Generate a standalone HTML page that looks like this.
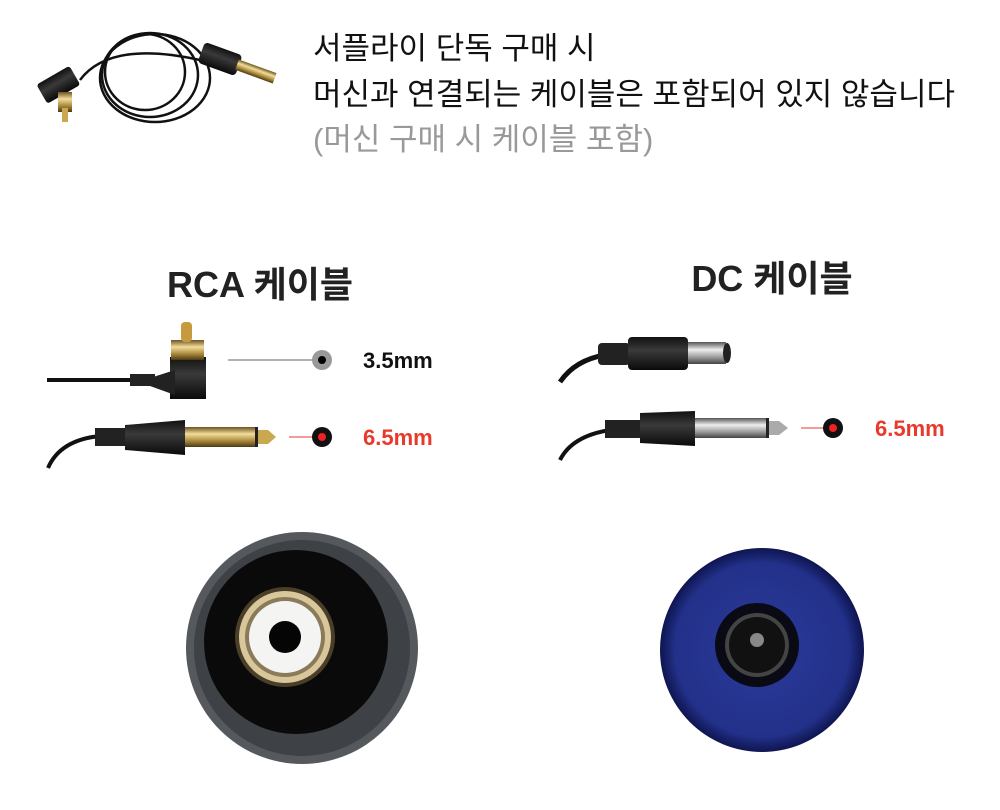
<!DOCTYPE html>
<html><head><meta charset="utf-8"><style>
html,body{margin:0;padding:0;background:#fff;}
svg{display:block}
text{font-family:"Liberation Sans","Noto Sans CJK KR",sans-serif;}
</style></head><body>
<svg width="1000" height="810" viewBox="0 0 1000 810" xmlns="http://www.w3.org/2000/svg">
<defs>
<linearGradient id="gold" x1="0" y1="0" x2="0" y2="1"><stop offset="0" stop-color="#6b5420"/><stop offset=".35" stop-color="#f2dd9a"/><stop offset=".7" stop-color="#a8873a"/><stop offset="1" stop-color="#4a3a15"/></linearGradient>
<linearGradient id="silver" x1="0" y1="0" x2="0" y2="1"><stop offset="0" stop-color="#555"/><stop offset=".35" stop-color="#eee"/><stop offset=".7" stop-color="#999"/><stop offset="1" stop-color="#444"/></linearGradient>
<linearGradient id="blk" x1="0" y1="0" x2="0" y2="1"><stop offset="0" stop-color="#111"/><stop offset=".4" stop-color="#3a3a3a"/><stop offset="1" stop-color="#0a0a0a"/></linearGradient>
<radialGradient id="blue" cx=".5" cy=".5" r=".5"><stop offset="0" stop-color="#2a3a9a"/><stop offset=".85" stop-color="#23318a"/><stop offset="1" stop-color="#0e1550"/></radialGradient>
</defs>

<g fill="none" stroke="#111" stroke-width="2.5">
<ellipse cx="150" cy="75" rx="48" ry="42"/>
<ellipse cx="145" cy="72" rx="40" ry="38"/>
<ellipse cx="155" cy="78" rx="55" ry="44"/>
<path d="M80 80 Q110 40 200 60"/>
</g>
<rect x="200" y="48" width="40" height="22" rx="4" fill="url(#blk)" transform="rotate(20 220 59)"/>
<rect x="236" y="66" width="40" height="11" fill="url(#gold)" transform="rotate(20 256 71)"/>
<g transform="rotate(-30 62 85)"><rect x="40" y="72" width="38" height="22" rx="3" fill="url(#blk)"/></g>
<rect x="58" y="92" width="14" height="20" fill="url(#gold)"/>
<rect x="62" y="108" width="6" height="14" fill="#c9a850"/>

<text x="313" y="59" font-size="31" fill="#111">서플라이 단독 구매 시</text>
<text x="313" y="105" font-size="31" fill="#111">머신과 연결되는 케이블은 포함되어 있지 않습니다</text>
<text x="313" y="150" font-size="31" fill="#999">(머신 구매 시 케이블 포함)</text>

<text x="260" y="297" font-size="36" font-weight="bold" fill="#222" text-anchor="middle">RCA 케이블</text>
<text x="772" y="291" font-size="36" font-weight="bold" fill="#222" text-anchor="middle">DC 케이블</text>

<path d="M47 380 L135 380" stroke="#111" stroke-width="4"/>
<rect x="130" y="374" width="25" height="12" fill="#222"/>
<rect x="170" y="357" width="36" height="42" fill="url(#blk)"/>
<path d="M150 378 L175 370 L175 395 L150 386Z" fill="#222"/>
<rect x="171" y="340" width="33" height="20" fill="url(#gold)"/>
<rect x="181" y="322" width="11" height="20" rx="4" fill="#c69a3e"/>
<line x1="228" y1="360" x2="318" y2="360" stroke="#999" stroke-width="1.5"/>
<circle cx="322" cy="360" r="10" fill="#999"/><circle cx="322" cy="360" r="4" fill="#000"/>
<text x="363" y="368" font-size="22" font-weight="bold" fill="#111">3.5mm</text>

<path d="M48 468 Q60 440 100 436" stroke="#111" stroke-width="4" fill="none"/>
<rect x="95" y="428" width="30" height="18" fill="#222"/>
<path d="M125 425 L185 420 L185 455 L125 450Z" fill="url(#blk)"/>
<rect x="185" y="427" width="72" height="20" fill="url(#gold)"/>
<rect x="255" y="427" width="3" height="20" fill="#222"/>
<path d="M258 430 L268 430 L276 437 L268 444 L258 444Z" fill="#c9a850"/>
<line x1="289" y1="437" x2="315" y2="437" stroke="#e33" stroke-width="1"/>
<circle cx="322" cy="437" r="10" fill="#111"/><circle cx="322" cy="437" r="4" fill="#e22"/>
<text x="363" y="445" font-size="22" font-weight="bold" fill="#e83a2c">6.5mm</text>

<path d="M560 382 Q575 360 605 355" stroke="#111" stroke-width="5" fill="none"/>
<rect x="598" y="343" width="32" height="22" rx="4" fill="#222"/>
<rect x="628" y="337" width="60" height="33" rx="4" fill="url(#blk)"/>
<rect x="688" y="342" width="38" height="22" fill="url(#silver)"/>
<ellipse cx="727" cy="353" rx="4" ry="10" fill="#222"/>

<path d="M560 460 Q572 436 610 430" stroke="#111" stroke-width="4" fill="none"/>
<rect x="605" y="420" width="35" height="18" fill="#222"/>
<path d="M640 413 L695 411 L695 446 L640 443Z" fill="url(#blk)"/>
<rect x="695" y="418" width="72" height="20" fill="url(#silver)"/>
<rect x="766" y="418" width="3" height="20" fill="#222"/>
<path d="M769 421 L779 421 L788 428 L779 435 L769 435Z" fill="#aaa"/>
<line x1="801" y1="428" x2="827" y2="428" stroke="#e33" stroke-width="1"/>
<circle cx="833" cy="428" r="10" fill="#111"/><circle cx="833" cy="428" r="4" fill="#e22"/>
<text x="875" y="436" font-size="22" font-weight="bold" fill="#e83a2c">6.5mm</text>

<circle cx="302" cy="648" r="116" fill="#55585c"/>
<circle cx="302" cy="648" r="108" fill="#3e4246"/>
<circle cx="296" cy="642" r="92" fill="#0a0a0a"/>
<circle cx="285" cy="637" r="50" fill="#4a3e28"/>
<circle cx="285" cy="637" r="46" fill="#d8c79a"/>
<circle cx="285" cy="637" r="40" fill="#8a7a5a"/>
<circle cx="285" cy="637" r="36" fill="#f4f4f2"/>
<circle cx="285" cy="637" r="16" fill="#050505"/>

<circle cx="762" cy="650" r="102" fill="url(#blue)"/>
<circle cx="757" cy="645" r="42" fill="#0a0a14"/>
<circle cx="757" cy="645" r="32" fill="#444" />
<circle cx="757" cy="645" r="28" fill="#111"/>
<circle cx="757" cy="640" r="7" fill="#888"/>
</svg>
</body></html>
